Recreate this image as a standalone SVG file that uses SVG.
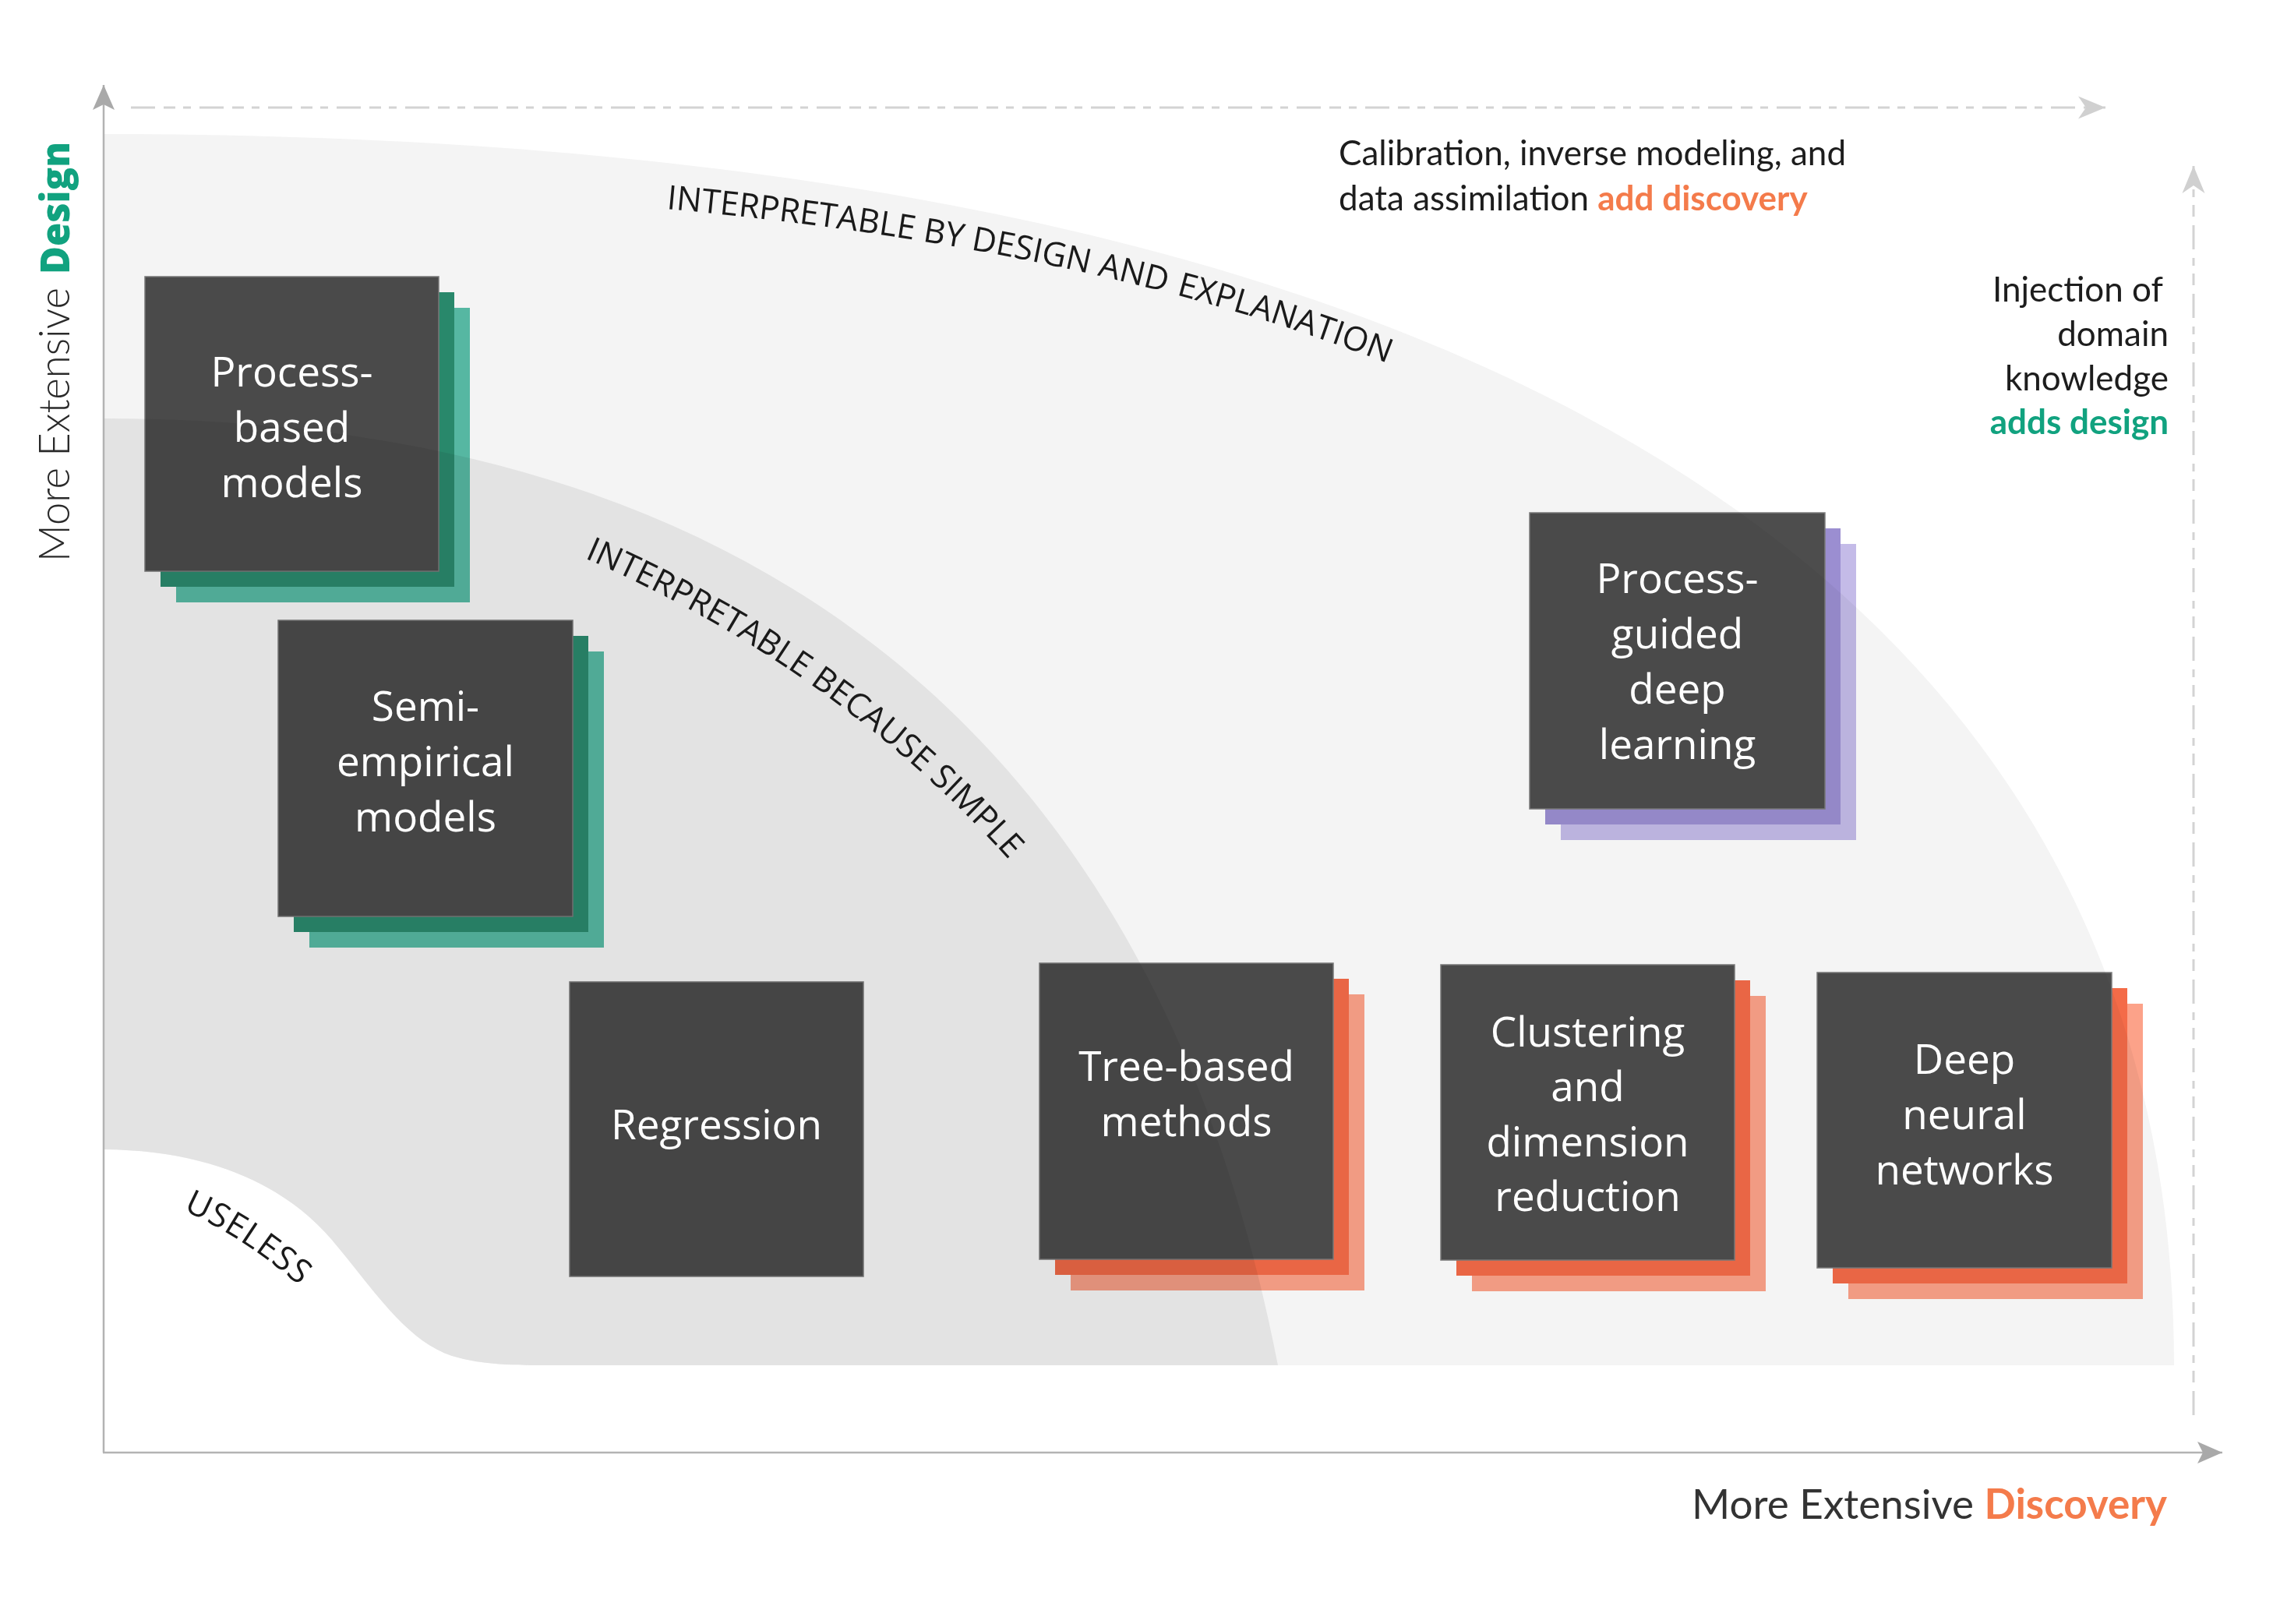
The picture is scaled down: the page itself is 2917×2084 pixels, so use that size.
<svg xmlns="http://www.w3.org/2000/svg" width="2917" height="2084" viewBox="0 0 2917 2084">
<style>
.box{fill:#4d4d4d;stroke:#7d7d7d;stroke-width:1.5}
.mult{mix-blend-mode:multiply}
.gF{fill:#2b8e70}.gB{fill:#5abfa9}
.oF{fill:#f46b48}.oB{fill:#fca289}
.pF{fill:#9b8ed1}.pB{fill:#c4bbe8}
.lbl{font-family:"Open Sans","Liberation Sans",sans-serif;font-size:53px;fill:#ffffff;text-anchor:middle}
.arc{font-family:"Open Sans","Liberation Sans",sans-serif;font-weight:400;font-size:43px;fill:#1a1a1a}
.note{font-family:Lato,"Liberation Sans",sans-serif;font-size:44px;fill:#1d1d1d}
.axis{stroke:#b3b3b3;stroke-width:2.5;fill:none}
.dash{stroke:#d3d3d3;stroke-width:3;fill:none;stroke-dasharray:31 11 15 10 10 11}
.green{fill:#11a27f;font-weight:700}
.orange{fill:#f47b4b;font-weight:700}
</style>
<defs>
<marker id="axArrow" markerUnits="userSpaceOnUse" viewBox="-34 -16 36 32" markerWidth="36" markerHeight="32" refX="0" refY="0" orient="auto">
<path d="M0,0 L-32,-14 L-25,0 L-32,14 Z" fill="#a9a9a9"/>
</marker>
<marker id="dashArrow" markerUnits="userSpaceOnUse" viewBox="-37 -16 39 32" markerWidth="39" markerHeight="32" refX="0" refY="0" orient="auto">
<path d="M0,0 L-35,-14.5 L-25,0 L-35,14.5 Z" fill="#d0d0d0"/>
</marker>
<path id="outerTP" d="M855,268 Q1420,320 1805,476"/>
<path id="innerTP" d="M750,716 Q1080,860 1305,1115"/>
<path id="uselessTP" d="M235,1553 Q318,1590 392,1657"/>
</defs>
<rect width="2917" height="2084" fill="#ffffff"/>
<g id="regions">
<path id="region-explanation" fill="#f4f4f4" d="M133,172 C1860,172 2790,725 2790,1752 L710,1752 C660,1752 620,1752 580,1740 C520,1720 480,1655 425,1590 C360,1515 260,1476 133,1475 Z"/>
<path id="region-simple" fill="#e3e3e3" d="M133,537 C950,537 1480,930 1640,1752 L710,1752 C660,1752 620,1752 580,1740 C520,1720 480,1655 425,1590 C360,1515 260,1476 133,1475 Z"/>
</g>
<g id="region-labels">
<text class="arc"><textPath href="#outerTP">INTERPRETABLE BY DESIGN AND</textPath></text>
<text class="arc"><textPath href="#outerTP" startOffset="664">EXPLANATION</textPath></text>
<text class="arc"><textPath href="#innerTP">INTERPRETABLE BECAUSE SIMPLE</textPath></text>
<text class="arc" letter-spacing="1"><textPath href="#uselessTP">USELESS</textPath></text>
</g>
<g id="connectors">
<line class="dash" x1="168" y1="138" x2="2702" y2="138" marker-end="url(#dashArrow)"/>
<line class="dash" x1="2815" y1="1816" x2="2815" y2="213" marker-end="url(#dashArrow)"/>
<line class="axis" x1="133" y1="1864" x2="133" y2="109" marker-end="url(#axArrow)"/>
<line class="axis" x1="132" y1="1864" x2="2852" y2="1864" marker-end="url(#axArrow)"/>
</g>
<g id="axis-labels">
<g transform="translate(89,721) rotate(-90)">
<text x="0" y="0" font-family="Lato,'Liberation Sans',sans-serif" font-weight="300" font-size="56" fill="#2a2a2a" textLength="352" lengthAdjust="spacingAndGlyphs">More Extensive</text>
<text x="369" y="0" font-family="'Open Sans','Liberation Sans',sans-serif" font-weight="800" font-size="52" fill="#11a27f" textLength="170" lengthAdjust="spacingAndGlyphs">Design</text>
</g>
<text x="2781" y="1949" text-anchor="end" font-family="Lato,'Liberation Sans',sans-serif" font-size="53" fill="#333333">More Extensive <tspan fill="#f47b4b" font-weight="700">Discovery</tspan></text>
<text class="note" x="1718" y="212">Calibration, inverse modeling, and</text>
<text class="note" x="1718" y="270">data assimilation <tspan class="orange">add discovery</tspan></text>
<g class="note" text-anchor="end">
<text x="2776" y="387">Injection of</text>
<text x="2783" y="444">domain</text>
<text x="2783" y="501">knowledge</text>
<text x="2783" y="557" class="green">adds design</text>
</g>
</g>
<g id="node-process-based">
<g class="mult"><rect class="gB" x="226" y="395" width="377" height="378"/><rect class="gF" x="206" y="375" width="377" height="378"/><rect class="box" x="186" y="355" width="377" height="378"/></g>
<text class="lbl" x="374.5" y="496">Process-</text>
<text class="lbl" x="374.5" y="567">based</text>
<text class="lbl" x="374.5" y="638">models</text>
</g>
<g id="node-semi-empirical">
<g class="mult"><rect class="gB" x="397" y="836" width="378" height="380"/><rect class="gF" x="377" y="816" width="378" height="380"/><rect class="box" x="357" y="796" width="378" height="380"/></g>
<text class="lbl" x="546" y="925">Semi-</text>
<text class="lbl" x="546" y="996">empirical</text>
<text class="lbl" x="546" y="1067">models</text>
</g>
<g id="node-regression">
<g class="mult"><rect class="box" x="731" y="1260" width="377" height="378"/></g>
<text class="lbl" x="919.5" y="1462">Regression</text>
</g>
<g id="node-tree-based">
<g class="mult"><rect class="oB" x="1374" y="1276" width="377" height="380"/><rect class="oF" x="1354" y="1256" width="377" height="380"/><rect class="box" x="1334" y="1236" width="377" height="380"/></g>
<text class="lbl" x="1522.5" y="1387">Tree-based</text>
<text class="lbl" x="1522.5" y="1458">methods</text>
</g>
<g id="node-clustering">
<g class="mult"><rect class="oB" x="1889" y="1278" width="377" height="379"/><rect class="oF" x="1869" y="1258" width="377" height="379"/><rect class="box" x="1849" y="1238" width="377" height="379"/></g>
<text class="lbl" x="2037.5" y="1343">Clustering</text>
<text class="lbl" x="2037.5" y="1413">and</text>
<text class="lbl" x="2037.5" y="1484">dimension</text>
<text class="lbl" x="2037.5" y="1554">reduction</text>
</g>
<g id="node-deep-neural-networks">
<g class="mult"><rect class="oB" x="2372" y="1288" width="378" height="379"/><rect class="oF" x="2352" y="1268" width="378" height="379"/><rect class="box" x="2332" y="1248" width="378" height="379"/></g>
<text class="lbl" x="2521" y="1378">Deep</text>
<text class="lbl" x="2521" y="1449">neural</text>
<text class="lbl" x="2521" y="1520">networks</text>
</g>
<g id="node-process-guided">
<g class="mult"><rect class="pB" x="2003" y="698" width="379" height="380"/><rect class="pF" x="1983" y="678" width="379" height="380"/><rect class="box" x="1963" y="658" width="379" height="380"/></g>
<text class="lbl" x="2152.5" y="761">Process-</text>
<text class="lbl" x="2152.5" y="832">guided</text>
<text class="lbl" x="2152.5" y="903">deep</text>
<text class="lbl" x="2152.5" y="974">learning</text>
</g>
</svg>
